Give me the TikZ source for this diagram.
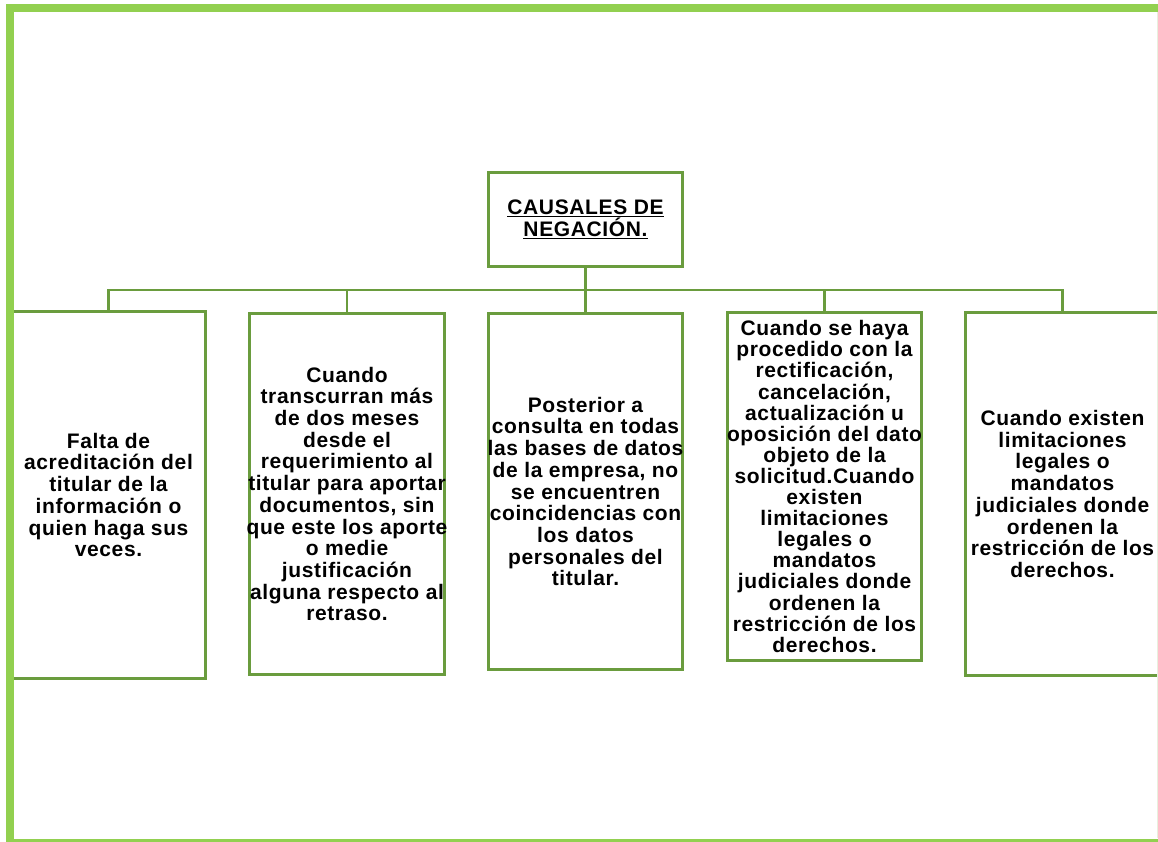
\documentclass[tikz,border=0pt]{standalone}
\usepackage{fontspec}
\setmainfont{Liberation Sans}
\newfontfamily\lsb[LetterSpace=3]{Liberation Sans}
\definecolor{framegreen}{RGB}{146,208,80}
\definecolor{boxgreen}{RGB}{106,156,62}
\definecolor{faint}{RGB}{232,240,222}
\tikzset{
  causebox/.style={draw=boxgreen, line width=3.5pt, fill=white, inner sep=0pt},
  causetext/.style={inner sep=0pt, align=center, font=\lsb\bfseries\fontsize{21}{21.7}\selectfont},
  conn/.style={draw=boxgreen, line width=2.3pt}
}
\begin{document}
\begin{tikzpicture}[x=1pt,y=-1pt]
\useasboundingbox (0,0) rectangle (1158,842);
\fill[white] (0,0) rectangle (1158,842);
% connectors
\coordinate (busy) at (0,290);
\node[causebox, minimum width=194pt, minimum height=94pt] (top) at (585.5,219.5) {};
\node[causebox, minimum width=194pt, minimum height=367pt] (b1) at (108.5,495) {};
\node[causebox, minimum width=195pt, minimum height=361pt] (b2) at (347,494) {};
\node[causebox, minimum width=194pt, minimum height=356pt] (b3) at (585.5,491.5) {};
\node[causebox, minimum width=194pt, minimum height=348pt] (b4) at (824.5,486.5) {};
\node[causebox, minimum width=194pt, minimum height=363pt] (b5) at (1062.5,494) {};
\draw[conn] (top.south) -- (top.south |- busy);
\draw[conn] (b1.north) -- (b1.north |- busy) -- (b5.north |- busy) -- (b5.north);
\draw[conn] (b2.north) -- (b2.north |- busy);
\draw[conn] (b3.north) -- (b3.north |- busy);
\draw[conn] (b4.north) -- (b4.north |- busy);
% texts
\node[causetext, font=\lsb\bfseries\fontsize{21}{20.5}\selectfont] (ttop) at (top) {\underline{CAUSALES DE}\\\underline{NEGACIÓN.}};
\node[causetext] (t1) at (b1) {Falta de\\acreditación del\\titular de la\\información o\\quien haga sus\\veces.};
\node[causetext] (t2) at (b2) {Cuando\\transcurran más\\de dos meses\\desde el\\requerimiento al\\titular para aportar\\documentos, sin\\que este los aporte\\o medie\\justificación\\alguna respecto al\\retraso.};
\node[causetext] (t3) at (b3) {Posterior a\\consulta en todas\\las bases de datos\\de la empresa, no\\se encuentren\\coincidencias con\\los datos\\personales del\\titular.};
\node[causetext, font=\lsb\bfseries\fontsize{21}{21.1}\selectfont] (t4) at (b4) {Cuando se haya\\procedido con la\\rectificación,\\cancelación,\\actualización u\\oposición del dato\\objeto de la\\solicitud.Cuando\\existen\\limitaciones\\legales o\\mandatos\\judiciales donde\\ordenen la\\restricción de los\\derechos.};
\node[causetext] (t5) at (b5) {Cuando existen\\limitaciones\\legales o\\mandatos\\judiciales donde\\ordenen la\\restricción de los\\derechos.};
% outer frame
\draw[faint, line width=1pt] (1157.5,12) -- (1157.5,838);
\fill[framegreen] (6,4) rectangle (1158,12);
\fill[framegreen] (6,4) rectangle (14,842);
\fill[framegreen] (6,838.5) rectangle (1158,842);
\end{tikzpicture}
\end{document}
